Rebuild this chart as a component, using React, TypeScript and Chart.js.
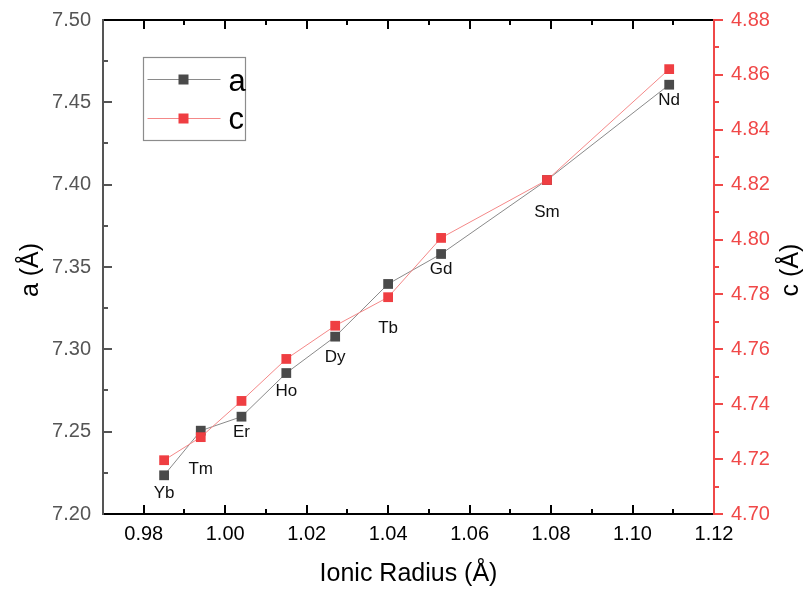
import React, { useEffect, useRef } from "react";
import { Chart, registerables } from "chart.js";

Chart.register(...registerables);

const elements = ["Yb", "Tm", "Er", "Ho", "Dy", "Tb", "Gd", "Sm", "Nd"];
const ionicRadius = [0.985, 0.994, 1.004, 1.015, 1.027, 1.04, 1.053, 1.079, 1.109];
const aValues = [7.2235, 7.2506, 7.2591, 7.2856, 7.3077, 7.3397, 7.3579, 7.4028, 7.4607];
const cValues = [4.7196, 4.728, 4.7412, 4.7565, 4.7686, 4.779, 4.8006, 4.8217, 4.8621];

const xTicks = [0.98, 1.0, 1.02, 1.04, 1.06, 1.08, 1.1, 1.12];
const aTicks = [7.2, 7.25, 7.3, 7.35, 7.4, 7.45, 7.5];
const cTicks = [4.7, 4.72, 4.74, 4.76, 4.78, 4.8, 4.82, 4.84, 4.86, 4.88];

// pixel offsets of element labels below the "a" markers (style only)
const labelOffsets = [18, 39, 16, 18, 21, 44, 15, 32, 16];

const FONT = "'Liberation Sans', Arial, Helvetica, sans-serif";
const GREY_MARK = "#4a4a4a";
const RED_MARK = "#ef3e42";
const RED_AXIS = "#f04848";
const GREY_LINE = "#8a8a8a";
const RED_LINE = "#f48888";

const minors = (arr: number[]) => {
  const out: number[] = [];
  const step = arr[1] - arr[0];
  out.push(arr[0] - step / 2);
  for (let i = 0; i < arr.length - 1; i++) out.push((arr[i] + arr[i + 1]) / 2);
  return out;
};

const decorPlugin = {
  id: "decor",
  afterDatasetsDraw(chart: any) {
    const ctx = chart.ctx as CanvasRenderingContext2D;
    const { x, y } = chart.scales;
    ctx.save();
    ctx.fillStyle = "#111";
    ctx.font = `17px ${FONT}`;
    ctx.textAlign = "center";
    ctx.textBaseline = "middle";
    elements.forEach((el, i) => {
      const px = x.getPixelForValue(ionicRadius[i]);
      const py = y.getPixelForValue(aValues[i]);
      ctx.fillText(el, px, py + labelOffsets[i]);
    });
    ctx.restore();
  },
  afterDraw(chart: any) {
    const ctx = chart.ctx as CanvasRenderingContext2D;
    const { x, y, y2 } = chart.scales;
    const area = chart.chartArea;
    const L = area.left, R = area.right, T = area.top, B = area.bottom;
    ctx.save();
    ctx.lineCap = "butt";
    const tick = (color: string, x1: number, y1: number, x2: number, y2_: number) => {
      ctx.strokeStyle = color;
      ctx.lineWidth = 2;
      ctx.beginPath();
      ctx.moveTo(x1, y1);
      ctx.lineTo(x2, y2_);
      ctx.stroke();
    };
    xTicks.forEach((v) => {
      const px = Math.round(x.getPixelForValue(v));
      tick("#000", px, B, px, B - 9);
      tick("#000", px, T, px, T + 9);
    });
    minors(xTicks).forEach((v) => {
      const px = Math.round(x.getPixelForValue(v));
      if (px <= L + 1) return;
      tick("#000", px, B, px, B - 5);
      tick("#000", px, T, px, T + 5);
    });
    aTicks.forEach((v) => {
      const py = Math.round(y.getPixelForValue(v));
      tick("#555", L, py, L + 9, py);
    });
    minors(aTicks).forEach((v) => {
      const py = Math.round(y.getPixelForValue(v));
      if (py >= B - 1) return;
      tick("#555", L, py, L + 5, py);
    });
    cTicks.forEach((v) => {
      const py = Math.round(y2.getPixelForValue(v));
      tick(RED_AXIS, R, py, R + 9, py);
    });
    minors(cTicks).forEach((v) => {
      const py = Math.round(y2.getPixelForValue(v));
      if (py >= B - 1) return;
      tick(RED_AXIS, R, py, R + 5, py);
    });
    // frame
    ctx.lineWidth = 2;
    ctx.strokeStyle = "#000";
    ctx.beginPath();
    ctx.moveTo(L, T);
    ctx.lineTo(R, T);
    ctx.moveTo(L, B);
    ctx.lineTo(R, B);
    ctx.stroke();
    ctx.strokeStyle = "#555";
    ctx.beginPath();
    ctx.moveTo(L, T - 1);
    ctx.lineTo(L, B + 1);
    ctx.stroke();
    ctx.strokeStyle = RED_AXIS;
    ctx.beginPath();
    ctx.moveTo(R, T - 1);
    ctx.lineTo(R, B + 1);
    ctx.stroke();

    // axis titles
    ctx.fillStyle = "#000";
    ctx.font = `25px ${FONT}`;
    ctx.textAlign = "center";
    ctx.textBaseline = "middle";
    ctx.fillText("Ionic Radius (Å)", (L + R) / 2, 574);
    ctx.save();
    ctx.translate(31, (T + B) / 2 + 3);
    ctx.rotate(-Math.PI / 2);
    ctx.fillText("a (Å)", 0, 0);
    ctx.restore();
    ctx.save();
    ctx.translate(791, (T + B) / 2 + 3);
    ctx.rotate(-Math.PI / 2);
    ctx.fillText("c (Å)", 0, 0);
    ctx.restore();

    // legend
    const bx = L + 40.5, by = T + 37.5, bw = 102, bh = 83;
    ctx.fillStyle = "#fff";
    ctx.fillRect(bx, by, bw, bh);
    ctx.strokeStyle = "#8c8c8c";
    ctx.lineWidth = 1.2;
    ctx.strokeRect(bx, by, bw, bh);
    const items = [
      { name: "a", line: GREY_LINE, mark: GREY_MARK, cy: by + 22, base: by + 33 },
      { name: "c", line: RED_LINE, mark: RED_MARK, cy: by + 61, base: by + 71.5 },
    ];
    items.forEach((it) => {
      ctx.strokeStyle = it.line;
      ctx.lineWidth = 1;
      ctx.beginPath();
      ctx.moveTo(bx + 4, it.cy);
      ctx.lineTo(bx + 77, it.cy);
      ctx.stroke();
      ctx.fillStyle = it.mark;
      ctx.fillRect(bx + 40 - 5, it.cy - 5, 10, 10);
      ctx.fillStyle = "#000";
      ctx.font = `31px ${FONT}`;
      ctx.textAlign = "left";
      ctx.textBaseline = "alphabetic";
      ctx.fillText(it.name, bx + 85, it.base);
    });
    ctx.restore();
  },
};

export default function App() {
  const canvasRef = useRef<HTMLCanvasElement | null>(null);

  useEffect(() => {
    const canvas = canvasRef.current;
    if (!canvas) return;
    const tickFont = { size: 20, family: FONT };
    const fitY = (w: number) => (s: any) => {
      s.width = w;
      s.paddingTop = 0;
      s.paddingBottom = 0;
    };
    const chart = new Chart(canvas, {
      type: "line",
      data: {
        datasets: [
          {
            label: "c",
            data: ionicRadius.map((xv, i) => ({ x: xv, y: cValues[i] })),
            yAxisID: "y2",
            borderColor: RED_LINE,
            borderWidth: 1,
            pointStyle: "rect",
            pointRadius: 6.9,
            pointBackgroundColor: RED_MARK,
            pointBorderColor: RED_MARK,
            pointBorderWidth: 0,
            tension: 0,
            order: 0,
          },
          {
            label: "a",
            data: ionicRadius.map((xv, i) => ({ x: xv, y: aValues[i] })),
            yAxisID: "y",
            borderColor: GREY_LINE,
            borderWidth: 1,
            pointStyle: "rect",
            pointRadius: 6.9,
            pointBackgroundColor: GREY_MARK,
            pointBorderColor: GREY_MARK,
            pointBorderWidth: 0,
            tension: 0,
            order: 1,
          },
        ],
      },
      options: {
        animation: false,
        responsive: false,
        events: [],
        layout: { padding: { top: 20, left: 0, right: 0, bottom: 0 } },
        plugins: { legend: { display: false }, tooltip: { enabled: false } },
        scales: {
          x: {
            type: "linear",
            position: "bottom",
            min: 0.97,
            max: 1.12,
            afterBuildTicks: (s: any) => {
              s.ticks = xTicks.map((v) => ({ value: v }));
            },
            afterFit: (s: any) => {
              s.height = 77;
              s.paddingLeft = 0;
              s.paddingRight = 0;
            },
            grid: { display: false, drawTicks: false, tickLength: 0 },
            border: { display: false },
            ticks: {
              padding: 8,
              color: "#000",
              font: tickFont,
              maxRotation: 0,
              autoSkip: false,
              callback: (v: any) => Number(v).toFixed(2),
            },
          },
          y: {
            type: "linear",
            position: "left",
            min: 7.2,
            max: 7.5,
            afterBuildTicks: (s: any) => {
              s.ticks = aTicks.map((v) => ({ value: v }));
            },
            afterFit: fitY(103),
            grid: { display: false, drawTicks: false, tickLength: 0 },
            border: { display: false },
            ticks: {
              padding: 12,
              color: "#555",
              font: tickFont,
              autoSkip: false,
              callback: (v: any) => Number(v).toFixed(2),
            },
          },
          y2: {
            type: "linear",
            position: "right",
            min: 4.7,
            max: 4.88,
            afterBuildTicks: (s: any) => {
              s.ticks = cTicks.map((v) => ({ value: v }));
            },
            afterFit: fitY(93),
            grid: { display: false, drawTicks: false, tickLength: 0 },
            border: { display: false },
            ticks: {
              padding: 17,
              color: RED_AXIS,
              font: tickFont,
              autoSkip: false,
              callback: (v: any) => Number(v).toFixed(2),
            },
          },
        },
      },
      plugins: [decorPlugin],
    } as any);
    return () => chart.destroy();
  }, []);

  return (
    <div style={{ position: "absolute", left: 0, top: 0, width: 807, height: 591, background: "#fff" }}>
      <canvas ref={canvasRef} width={807} height={591} style={{ display: "block", width: 807, height: 591 }} />
    </div>
  );
}
